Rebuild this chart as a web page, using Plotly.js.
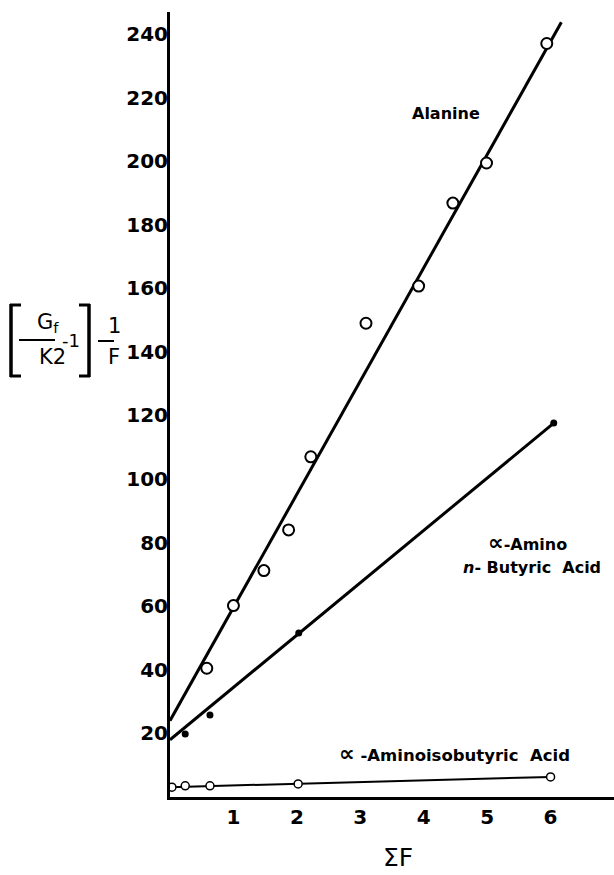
<!DOCTYPE html>
<html>
<head>
<meta charset="utf-8">
<script src="https://cdn.plot.ly/plotly-3.0.1.min.js"></script>
<style>html,body{margin:0;padding:0;background:#fff;}#chart{width:614px;height:875px;}</style>
</head>
<body>
<div id="chart"></div>
<script>
// Alanine (open circles)
const alanineX = [0.58, 1.0, 1.48, 1.87, 2.22, 3.09, 3.92, 4.46, 4.99, 5.94];
const alanineY = [40.5, 60.2, 71.2, 84.0, 107.0, 149.0, 160.7, 186.8, 199.4, 237.0];
const alanineFitX = [0, 6.17];
const alanineFitY = [24, 243.7];

// alpha-Amino n-Butyric Acid (small filled dots)
const butyricX = [0.24, 0.63, 2.03, 6.05];
const butyricY = [19.8, 25.8, 51.6, 117.6];
const butyricFitX = [0, 6.05];
const butyricFitY = [18, 117.6];

// alpha-Aminoisobutyric Acid (small open circles)
const isoX = [0.03, 0.24, 0.63, 2.02, 6.0];
const isoY = [3.1, 3.5, 3.5, 4.1, 6.3];
const isoFitX = [0, 6.0];
const isoFitY = [3.1, 6.3];

const xTicks = [1, 2, 3, 4, 5, 6];
const yTicks = [20, 40, 60, 80, 100, 120, 140, 160, 180, 200, 220, 240];

const W = 614, H = 875;
const M = {l: 170, r: 0, t: 12, b: 78};
const PW = W - M.l - M.r, PH = H - M.t - M.b;
const px = v => (v - M.l) / PW;
const py = v => (H - M.b - v) / PH;

const FONT = 'DejaVu Sans, sans-serif';

const traces = [
  {x: alanineFitX, y: alanineFitY, mode: 'lines', line: {color: '#000', width: 3}, hoverinfo: 'skip'},
  {x: butyricFitX, y: butyricFitY, mode: 'lines', line: {color: '#000', width: 3}, hoverinfo: 'skip'},
  {x: isoFitX, y: isoFitY, mode: 'lines', line: {color: '#000', width: 2}, hoverinfo: 'skip'},
  {x: alanineX, y: alanineY, mode: 'markers', marker: {symbol: 'circle', size: 11, color: '#fff', line: {color: '#000', width: 2}}},
  {x: butyricX, y: butyricY, mode: 'markers', marker: {symbol: 'circle', size: 7, color: '#000'}},
  {x: isoX, y: isoY, mode: 'markers', marker: {symbol: 'circle', size: 8, color: '#fff', line: {color: '#000', width: 1.5}}}
];

const lblFont = {family: FONT, size: 16, color: '#000', weight: 'bold'};
const titleFont = {family: FONT, size: 21, color: '#000'};
const ALPHA = '<span style="font-size:22px">∝</span>';

const annotations = [
  {x: 4.35, y: 215, xref: 'x', yref: 'y', text: 'Alanine', showarrow: false, font: lblFont},
  {x: 5.63, y: 80, xref: 'x', yref: 'y', text: ALPHA + '-Amino', showarrow: false, font: lblFont},
  {x: 5.71, y: 72.2, xref: 'x', yref: 'y', text: '<i>n</i>- Butyric  Acid', showarrow: false, font: lblFont},
  {x: 4.49, y: 13.8, xref: 'x', yref: 'y', text: ALPHA + ' -Aminoisobutyric  Acid', showarrow: false, font: {family: FONT, size: 16.5, color: '#000', weight: 'bold'}},
  // x-axis title
  {x: px(398), y: py(874), xref: 'paper', yref: 'paper', yanchor: 'bottom', text: 'ΣF', showarrow: false, font: {family: FONT, size: 25, color: '#000'}},
  // y-axis title pieces
  {x: px(35), y: py(323), xref: 'paper', yref: 'paper', text: 'G<sub>f</sub>', showarrow: false, font: titleFont},
  {x: px(37), y: py(357), xref: 'paper', yref: 'paper', text: 'K2', showarrow: false, font: titleFont},
  {x: px(71), y: py(340), xref: 'paper', yref: 'paper', xanchor: 'center', text: '-1', showarrow: false, font: {family: FONT, size: 18, color: '#000'}},
  {x: px(106), y: py(326), xref: 'paper', yref: 'paper', text: '1', showarrow: false, font: titleFont},
  {x: px(106), y: py(357), xref: 'paper', yref: 'paper', text: 'F', showarrow: false, font: titleFont}
];

const ln = (x0, y0, x1, y1, w) => ({type: 'line', xref: 'paper', yref: 'paper', x0: px(x0), y0: py(y0), x1: px(x1), y1: py(y1), line: {color: '#000', width: w}});

const shapes = [
  // left bracket
  ln(11, 304, 11, 377, 3.5), ln(10, 305, 21, 305, 3), ln(10, 376, 21, 376, 3),
  // right bracket
  ln(89, 304, 89, 377, 3.5), ln(79, 305, 90, 305, 3), ln(79, 376, 90, 376, 3),
  // fraction bars
  ln(19, 340, 55, 340, 2), ln(98, 341, 114, 341, 2)
];

const layout = {
  width: W, height: H,
  margin: M,
  paper_bgcolor: '#fff', plot_bgcolor: '#fff',
  showlegend: false,
  xaxis: {
    range: [0, 7], showgrid: false, zeroline: false,
    showline: true, linecolor: '#000', linewidth: 3,
    ticks: '', tickvals: xTicks, ticktext: xTicks.map(String),
    ticklabelstandoff: 0,
    tickfont: {family: FONT, size: 20, color: '#000', weight: 'bold'}
  },
  yaxis: {
    range: [0, 246.9], showgrid: false, zeroline: false,
    showline: true, linecolor: '#000', linewidth: 3,
    ticks: '', tickvals: yTicks, ticktext: yTicks.map(String),
    ticklabelstandoff: -5,
    tickfont: {family: FONT, size: 20, color: '#000', weight: 'bold'}
  },
  annotations: annotations,
  shapes: shapes
};

Plotly.newPlot('chart', traces, layout, {staticPlot: true, displayModeBar: false});
</script>
</body>
</html>
